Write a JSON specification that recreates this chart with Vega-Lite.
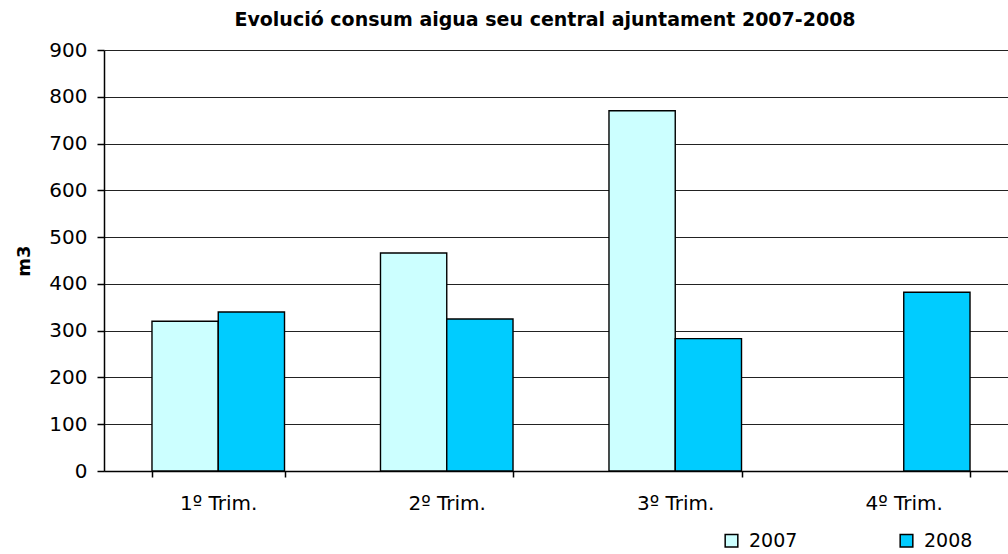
{
  "$schema": "https://vega.github.io/schema/vega-lite/v6.json",
  "autosize": {"type": "none"},
  "width": 904,
  "height": 421,
  "padding": {"left": 104, "top": 50, "right": 0, "bottom": 83},
  "background": "white",
  "title": {
    "text": "Evolució consum aigua seu central ajuntament 2007-2008",
    "font": "DejaVu Sans",
    "fontSize": 19,
    "fontWeight": "bold",
    "color": "black",
    "anchor": "middle",
    "dx": -11,
    "offset": 10
  },
  "data": {
    "values": [
      {"trim": "1º Trim.", "year": "2007", "m3": 320},
      {"trim": "1º Trim.", "year": "2008", "m3": 340},
      {"trim": "2º Trim.", "year": "2007", "m3": 466},
      {"trim": "2º Trim.", "year": "2008", "m3": 325},
      {"trim": "3º Trim.", "year": "2007", "m3": 770},
      {"trim": "3º Trim.", "year": "2008", "m3": 283},
      {"trim": "4º Trim.", "year": "2008", "m3": 382}
    ]
  },
  "mark": {"type": "bar", "stroke": "black", "strokeWidth": 1.4},
  "encoding": {
    "x": {
      "field": "trim",
      "type": "nominal",
      "sort": null,
      "title": null,
      "scale": {"paddingInner": 0.42, "paddingOuter": 0.21, "range": [0, 914]},
      "axis": {
        "labelAngle": 0,
        "labelFont": "DejaVu Sans",
        "labelFontSize": 20,
        "labelColor": "black",
        "labelPadding": 16,
        "ticks": true,
        "tickBand": "extent",
        "tickColor": "black",
        "tickSize": 6,
        "tickWidth": 1.5,
        "domainColor": "black",
        "domainWidth": 1.5,
        "grid": false
      }
    },
    "xOffset": {"field": "year", "type": "nominal", "scale": {"paddingInner": 0, "paddingOuter": 0}},
    "y": {
      "field": "m3",
      "type": "quantitative",
      "title": "m3",
      "scale": {"domain": [0, 900], "nice": false},
      "axis": {
        "values": [0, 100, 200, 300, 400, 500, 600, 700, 800, 900],
        "labelFont": "DejaVu Sans",
        "labelFontSize": 20,
        "labelColor": "black",
        "labelPadding": 10,
        "titleFont": "DejaVu Sans",
        "titleFontSize": 18,
        "titleFontWeight": "bold",
        "titleColor": "black",
        "titlePadding": 15,
        "ticks": true,
        "tickColor": "black",
        "tickSize": 7,
        "tickWidth": 1.5,
        "domainColor": "black",
        "domainWidth": 1.5,
        "grid": true,
        "gridColor": "#222222",
        "gridWidth": 1.2,
        "gridOpacity": 1
      }
    },
    "color": {
      "field": "year",
      "type": "nominal",
      "scale": {"domain": ["2007", "2008"], "range": ["#CCFFFF", "#00CCFF"]},
      "legend": {
        "title": null,
        "orient": "none",
        "direction": "horizontal",
        "legendX": 618,
        "legendY": 481,
        "symbolType": "square",
        "symbolSize": 160,
        "symbolStrokeColor": "black",
        "symbolStrokeWidth": 1.5,
        "labelFont": "DejaVu Sans",
        "labelFontSize": 19,
        "labelColor": "black",
        "labelOffset": 8,
        "columnPadding": 99
      }
    }
  },
  "config": {"view": {"stroke": null}}
}
